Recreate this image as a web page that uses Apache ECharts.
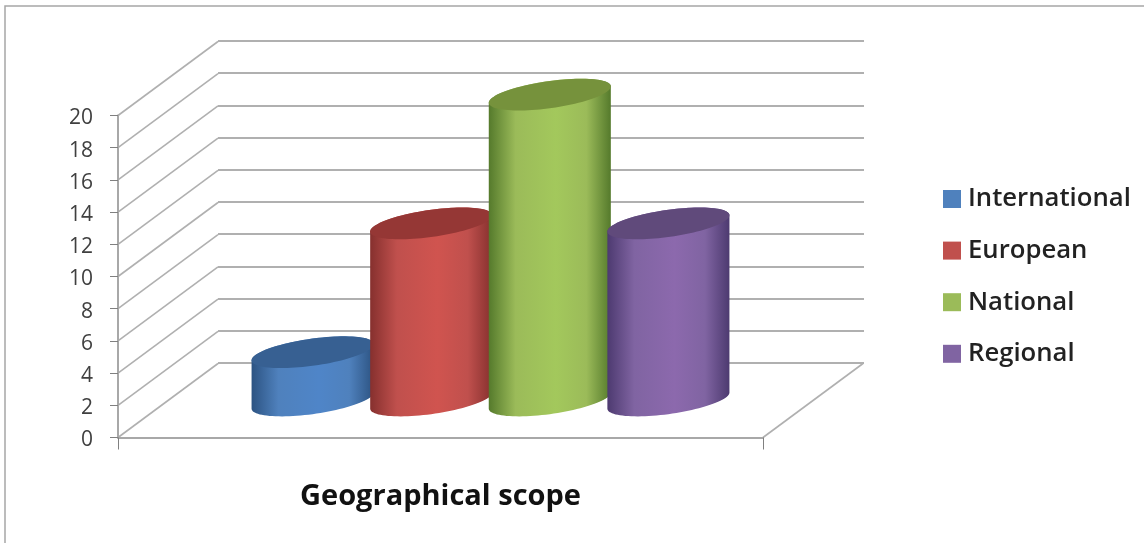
<!DOCTYPE html>
<html><head><meta charset="utf-8">
<style>html,body{margin:0;padding:0;background:#fff}#c{width:1144px;height:543px}</style>
<script src="https://cdn.jsdelivr.net/npm/echarts@6/dist/echarts.min.js"></script>
</head><body><div id="c"></div>
<script>
const categories = ['Geographical scope'];
const seriesNames = ['International', 'European', 'National', 'Regional'];
const seriesValues = [3, 11, 19, 11];
const yMin = 0, yMax = 20, yStep = 2;
const legendColors = ['#4f81bd', '#c0504d', '#9bbb59', '#8064a2'];
const edgeColors = ['#2c5382', '#86302e', '#557a2c', '#4d3a70'];
const midColors = ['#4f85c8', '#d0544f', '#a3c85c', '#8c69ad'];
const capColors = ['#376092', '#953735', '#76923c', '#604a7b'];
const wallTicks = [0, 2, 4, 6, 8, 10, 12, 14, 16, 18, 20];

const DEPTH_X = 100, DEPTH_Y = -74;
const SLOT = 118.6 / 645, BAR_W = 122 / 645;
const TILT = 8 * Math.PI / 180, MINOR = 13.5;

function ellipseArc(cx, cy, a, b, from, to, n) {
  const pts = [];
  for (let k = 0; k <= n; k++) {
    const t = from + (to - from) * k / n;
    pts.push([
      cx + a * Math.cos(t) * Math.cos(TILT) + b * Math.sin(t) * Math.sin(TILT),
      cy - a * Math.cos(t) * Math.sin(TILT) + b * Math.sin(t) * Math.cos(TILT)
    ]);
  }
  return pts;
}

function cylinder(i) {
  return function (params, api) {
    const band = api.size([1, 0])[0];
    const top = api.coord([api.value(0), api.value(1)]);
    const base = api.coord([api.value(0), 0]);
    const cx = top[0] + (i - 1.5) * SLOT * band + DEPTH_X / 2;
    const topY = top[1] + DEPTH_Y / 2, baseY = base[1] + DEPTH_Y / 2;
    const a = BAR_W * band / 2 / Math.cos(TILT);
    const t0 = Math.atan2(MINOR * Math.sin(TILT), a * Math.cos(TILT));
    const body = ellipseArc(cx, baseY, a, MINOR, t0, t0 + Math.PI, 48)
      .concat(ellipseArc(cx, topY, a, MINOR, t0 + Math.PI, t0 + 2 * Math.PI, 48));
    const cap = ellipseArc(cx, topY, a, MINOR, 0, 2 * Math.PI, 96);
    const grad = {
      type: 'linear', x: 0, y: 0, x2: 1, y2: 0,
      colorStops: [
        { offset: 0, color: edgeColors[i] },
        { offset: 0.22, color: legendColors[i] },
        { offset: 0.55, color: midColors[i] },
        { offset: 0.8, color: legendColors[i] },
        { offset: 1, color: edgeColors[i] }
      ]
    };
    return {
      type: 'group',
      children: [
        { type: 'polygon', shape: { points: body }, style: { fill: grad } },
        { type: 'polygon', shape: { points: cap }, style: { fill: capColors[i] } }
      ]
    };
  };
}

function wallLines(params, api) {
  const band = api.size([1, 0])[0];
  const p = api.coord([0, api.value(0)]);
  const left = p[0] - band / 2;
  const st = { stroke: '#b0b0b0', lineWidth: 1.6, fill: 'none' };
  const children = [{
    type: 'line',
    shape: { x1: left, y1: p[1], x2: left + DEPTH_X, y2: p[1] + DEPTH_Y },
    style: st
  }];
  if (params.dataIndex === 0) {
    children.push({
      type: 'line',
      shape: { x1: left + band, y1: p[1], x2: left + band + DEPTH_X, y2: p[1] + DEPTH_Y },
      style: st
    });
  }
  return { type: 'group', children };
}

const chart = echarts.init(document.getElementById('c'), null, { renderer: 'canvas' });
const series = [{
  type: 'custom', name: 'wall', xAxisIndex: 0, yAxisIndex: 0, silent: true,
  coordinateSystem: 'cartesian2d', data: wallTicks.map(v => [v]),
  encode: { y: 0 }, renderItem: wallLines, z: 1
}];
seriesNames.forEach((name, i) => {
  series.push({
    type: 'custom', name, xAxisIndex: 0, yAxisIndex: 0,
    coordinateSystem: 'cartesian2d',
    itemStyle: { color: legendColors[i] },
    data: [[0, seriesValues[i]]],
    encode: { x: 0, y: 1 },
    renderItem: cylinder(i),
    z: 3 + i
  });
});

chart.setOption({
  animation: false,
  backgroundColor: '#fff',
  textStyle: { fontFamily: '"Open Sans"' },
  graphic: [{
    type: 'rect', silent: true, z: -10,
    shape: { x: 5, y: 6, width: 1200, height: 600 },
    style: { fill: 'none', stroke: '#a6a6a6', lineWidth: 1.5 }
  }],
  grid: [
    { left: 118, top: 115.5, width: 645, height: 322 },
    { left: 218, top: 41, width: 646, height: 322 }
  ],
  xAxis: [{
    type: 'category', gridIndex: 0, data: categories,
    axisLine: { lineStyle: { color: '#a8a8a8', width: 2 } },
    axisTick: { show: true, length: 12, lineStyle: { color: '#808080', width: 1 } },
    axisLabel: { fontSize: 29, fontWeight: 700, color: '#111', margin: 45, fontFamily: '"Open Sans"' },
    z: 2
  }, {
    type: 'category', gridIndex: 1, data: categories, show: false
  }],
  yAxis: [{
    type: 'value', gridIndex: 0, min: yMin, max: yMax, interval: yStep,
    splitLine: { show: false },
    axisLine: { show: true, lineStyle: { color: '#a8a8a8', width: 2 } },
    axisTick: { show: true, length: 8, lineStyle: { color: '#808080', width: 1 } },
    axisLabel: { fontSize: 21, color: '#404040', margin: 25, verticalAlign: 'top', lineHeight: 6, fontFamily: '"Open Sans"' },
    z: 2
  }, {
    type: 'value', gridIndex: 1, min: yMin, max: yMax, interval: yStep,
    axisLine: { show: false }, axisTick: { show: false }, axisLabel: { show: false },
    splitLine: { show: true, lineStyle: { color: '#b0b0b0', width: 2 } }
  }],
  legend: {
    data: seriesNames, orient: 'vertical', left: 943, top: 186,
    icon: 'rect', itemWidth: 18, itemHeight: 18, itemGap: 25.6,
    padding: 0,
    textStyle: { fontSize: 25.7, fontWeight: 600, color: '#222', padding: [0, 0, 3, 2], fontFamily: '"Open Sans"' }
  },
  series
});
</script></body></html>
